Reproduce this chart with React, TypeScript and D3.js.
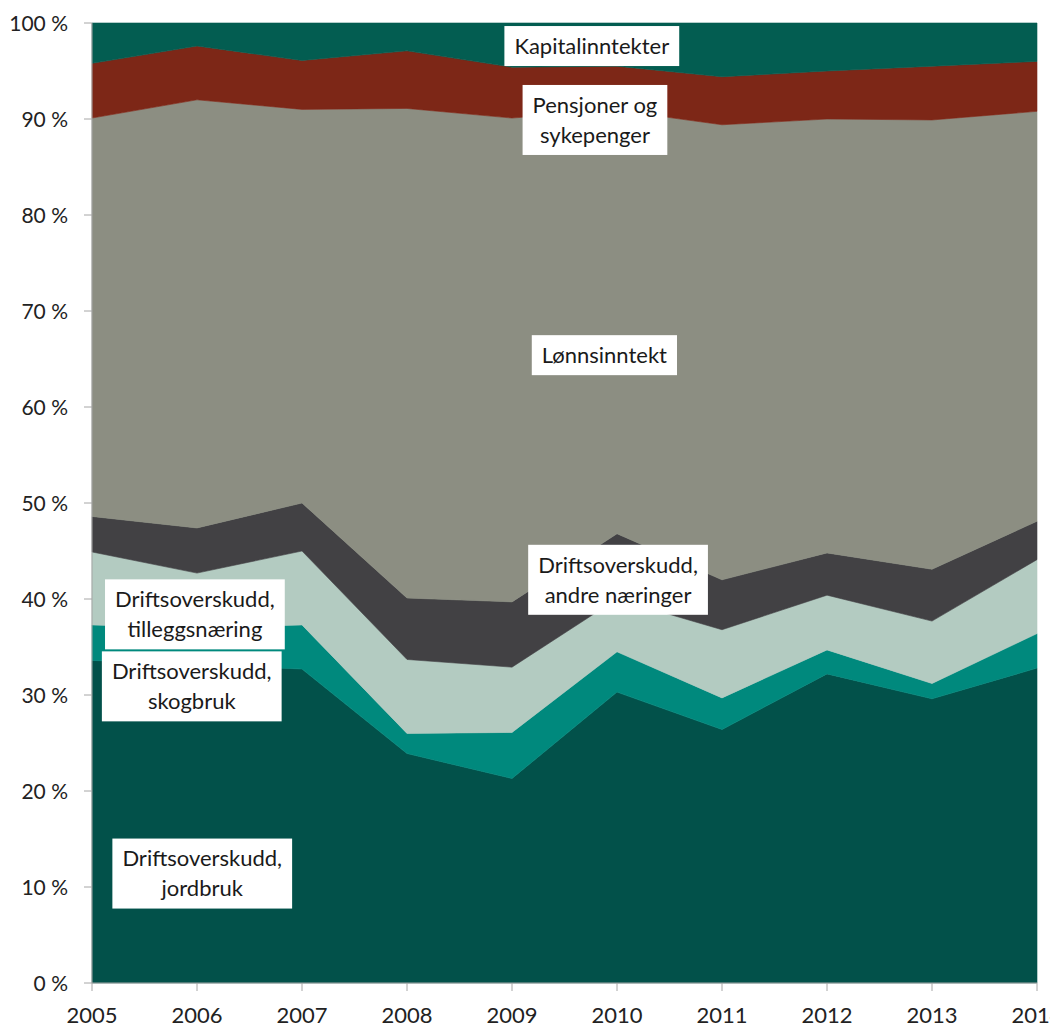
import React, { useEffect, useRef } from "react";
import * as d3 from "d3";

const years = [2005, 2006, 2007, 2008, 2009, 2010, 2011, 2012, 2013, 2014];
const jordbruk = [33.6, 33.2, 32.7, 23.9, 21.3, 30.3, 26.4, 32.2, 29.6, 32.8];
const skogbruk = [3.7, 3.8, 4.6, 2.1, 4.8, 4.2, 3.3, 2.5, 1.6, 3.6];
const tilleggsnaering = [7.6, 5.7, 7.7, 7.7, 6.8, 5.5, 7.1, 5.7, 6.5, 7.7];
const andreNaeringer = [3.7, 4.7, 5.0, 6.4, 6.8, 6.8, 5.2, 4.4, 5.4, 4.0];
const lonnsinntekt = [41.5, 44.6, 41.0, 51.0, 50.4, 44.1, 47.4, 45.2, 46.8, 42.7];
const pensjoner = [5.7, 5.6, 5.1, 6.0, 5.3, 4.6, 5.0, 5.0, 5.6, 5.2];
const kapitalinntekter = [4.2, 2.4, 3.9, 2.9, 4.6, 4.5, 5.6, 5.0, 4.5, 4.0];

const seriesKeys = ["jord", "skog", "tillegg", "andre", "lonn", "pens", "kap"];
const seriesValues = [jordbruk, skogbruk, tilleggsnaering, andreNaeringer, lonnsinntekt, pensjoner, kapitalinntekter];
const seriesColors = ["#02514A", "#00897D", "#B3CBC1", "#424144", "#8C8E82", "#7D2717", "#035D51"];

const yTicks = [0, 10, 20, 30, 40, 50, 60, 70, 80, 90, 100];

// Annotation labels: lines, anchor year (fractional), anchor value (%)
const labelLines = [
  ["Kapitalinntekter"],
  ["Pensjoner og", "sykepenger"],
  ["Lønnsinntekt"],
  ["Driftsoverskudd,", "andre næringer"],
  ["Driftsoverskudd,", "tilleggsnæring"],
  ["Driftsoverskudd,", "skogbruk"],
  ["Driftsoverskudd,", "jordbruk"],
];
const labelYears = [2009.76, 2009.79, 2009.88, 2010.01, 2005.98, 2005.95, 2006.05];
const labelValues = [97.6, 89.9, 65.4, 42.0, 38.4, 30.9, 11.4];

const W = 1050;
const H = 1028;
const margin = { left: 92, right: 13, top: 23, bottom: 45 };

export default function App() {
  const ref = useRef<SVGSVGElement>(null);

  useEffect(() => {
    const svg = d3.select(ref.current);
    svg.selectAll("*").remove();

    const x = d3.scaleLinear().domain([2005, 2014]).range([margin.left, W - margin.right]);
    const y = d3.scaleLinear().domain([0, 100]).range([H - margin.bottom, margin.top]);

    const table = years.map((yr, i) => {
      const row: any = { year: yr };
      seriesKeys.forEach((k, j) => (row[k] = seriesValues[j][i]));
      return row;
    });
    const stacked = d3.stack().keys(seriesKeys)(table as any);

    const area = d3
      .area<any>()
      .x((d) => x(d.data.year))
      .y0((d) => y(d[0]))
      .y1((d) => y(d[1]))
      .curve(d3.curveLinear);

    svg
      .append("g")
      .selectAll("path")
      .data(stacked)
      .join("path")
      .attr("d", (d: any) => area(d))
      .attr("fill", (_d: any, i: number) => seriesColors[i])
      .attr("stroke", (_d: any, i: number) => seriesColors[i])
      .attr("stroke-width", 0.6);

    // axes
    const axisColor = "#A6A6A6";
    const g = svg.append("g");
    g.append("line")
      .attr("x1", x(2005)).attr("x2", x(2005))
      .attr("y1", y(0)).attr("y2", y(100))
      .attr("stroke", axisColor).attr("stroke-width", 1);
    g.append("line")
      .attr("x1", x(2005)).attr("x2", x(2014))
      .attr("y1", y(0)).attr("y2", y(0))
      .attr("stroke", axisColor).attr("stroke-width", 1);

    g.selectAll("line.yt")
      .data(yTicks)
      .join("line")
      .attr("class", "yt")
      .attr("x1", x(2005) - 8).attr("x2", x(2005))
      .attr("y1", (d) => y(d)).attr("y2", (d) => y(d))
      .attr("stroke", axisColor);
    g.selectAll("text.yl")
      .data(yTicks)
      .join("text")
      .attr("class", "yl")
      .attr("x", x(2005) - 24)
      .attr("y", (d) => y(d))
      .attr("dy", "0.36em")
      .attr("text-anchor", "end")
      .attr("font-family", "Lato, 'Open Sans', sans-serif")
      .attr("font-size", 21)
      .attr("fill", "#222")
      .text((d) => `${d} %`);

    g.selectAll("line.xt")
      .data(years)
      .join("line")
      .attr("class", "xt")
      .attr("x1", (d) => x(d)).attr("x2", (d) => x(d))
      .attr("y1", y(0)).attr("y2", y(0) + 8)
      .attr("stroke", axisColor);
    g.selectAll("text.xl")
      .data(years)
      .join("text")
      .attr("class", "xl")
      .attr("x", (d) => x(d))
      .attr("y", y(0) + 40)
      .attr("text-anchor", "middle")
      .attr("font-family", "Lato, 'Open Sans', sans-serif")
      .attr("font-size", 22)
      .attr("fill", "#222")
      .text((d) => String(d));

    // labels
    const lineH = 30;
    const padX = 10;
    const padY = 5;
    labelLines.forEach((lines, i) => {
      const cx = x(labelYears[i]);
      const cy = y(labelValues[i]);
      const lg = svg.append("g");
      const rect = lg.append("rect").attr("fill", "#fff");
      const totalH = lines.length * lineH;
      const texts = lg
        .selectAll("text")
        .data(lines)
        .join("text")
        .attr("x", cx)
        .attr("y", (_d, k) => cy - totalH / 2 + lineH * k + lineH / 2)
        .attr("dy", "0.35em")
        .attr("text-anchor", "middle")
        .attr("font-family", "Lato, 'Open Sans', sans-serif")
        .attr("font-size", 22)
        .attr("fill", "#1a1a1a")
        .text((d) => d);
      let maxW = 0;
      texts.each(function () {
        maxW = Math.max(maxW, (this as SVGTextElement).getComputedTextLength());
      });
      rect
        .attr("x", cx - maxW / 2 - padX)
        .attr("y", cy - totalH / 2 - padY)
        .attr("width", maxW + padX * 2)
        .attr("height", totalH + padY * 2);
    });
  }, []);

  return (
    <svg
      ref={ref}
      width={W}
      height={H}
      style={{ position: "absolute", left: 0, top: 0, background: "#fff" }}
    />
  );
}
